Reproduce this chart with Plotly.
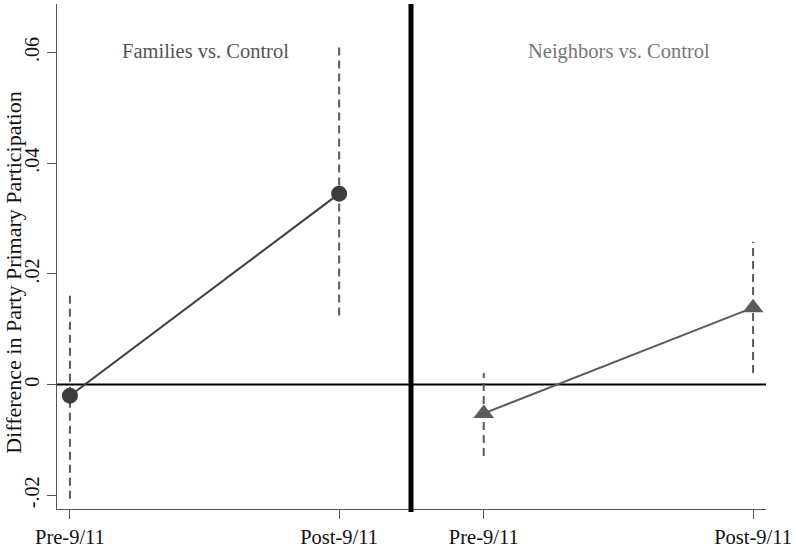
import plotly.graph_objects as go
from plotly.subplots import make_subplots

periods = ["Pre-9/11", "Post-9/11"]
families_est = [-0.0020, 0.0345]
families_lo = [-0.0206, 0.0125]
families_hi = [0.0163, 0.0616]
neighbors_est = [-0.0052, 0.0139]
neighbors_lo = [-0.0129, 0.0021]
neighbors_hi = [0.0021, 0.0258]
y_ticks = [-0.02, 0, 0.02, 0.04, 0.06]
y_ticktext = ["-.02", "0", ".02", ".04", ".06"]
panel_titles = ["Families vs. Control", "Neighbors vs. Control"]
y_title = "Difference in Party Primary Participation"

SERIF = "Liberation Serif, Times New Roman, serif"

fig = make_subplots(rows=1, cols=2, shared_yaxes=True, horizontal_spacing=0)

groups = [
    (families_est, families_lo, families_hi, "#3c3c3c", "circle", 16, 1),
    (neighbors_est, neighbors_lo, neighbors_hi, "#5c5c5c", "triangle-up", 18, 2),
]
for est, lo, hi, color, sym, msize, col in groups:
    for p, l, h in zip(periods, lo, hi):
        fig.add_trace(go.Scatter(x=[p, p], y=[l, h], mode="lines",
                                 line=dict(color="#5a5a5a", width=2, dash="8px,5px"),
                                 showlegend=False, hoverinfo="skip"), row=1, col=col)
    fig.add_trace(go.Scatter(x=periods, y=est, mode="lines+markers",
                             line=dict(color=color, width=2),
                             marker=dict(symbol=sym, size=msize, color=color),
                             showlegend=False), row=1, col=col)

axis_common = dict(showline=True, linecolor="#555555", linewidth=1.3,
                   ticks="outside", ticklen=9, tickcolor="#555555", tickwidth=1.3,
                   showgrid=False, zeroline=False,
                   tickfont=dict(family=SERIF, size=20.5, color="#111111"),
                   type="category", categoryorder="array", categoryarray=periods)

fig.update_xaxes(axis_common)
fig.update_layout(
    xaxis=dict(domain=[0, 0.4993], range=[-0.048, 1.267]),
    xaxis2=dict(domain=[0.4993, 1], range=[-0.270, 1.048]),
    yaxis=dict(range=[-0.02247, 0.06876], tickvals=y_ticks, ticktext=y_ticktext,
               tickangle=-90, showline=True, linecolor="#555555", linewidth=1.3,
               ticks="outside", ticklen=9, tickcolor="#555555", tickwidth=1.3,
               showgrid=False, zeroline=False,
               tickfont=dict(family=SERIF, size=20, color="#111111")),
    yaxis2=dict(range=[-0.02247, 0.06876], showline=False, ticks="", showticklabels=False,
                showgrid=False, zeroline=False),
    width=796, height=552,
    margin=dict(l=57, r=28, t=4, b=38),
    plot_bgcolor="white", paper_bgcolor="white",
    showlegend=False,
)

# zero reference line across both panels
fig.add_shape(type="line", xref="paper", yref="y", x0=0, x1=1, y0=0, y1=0,
              line=dict(color="black", width=2), layer="below")
# thick divider
fig.add_shape(type="line", xref="paper", yref="paper", x0=0.4993, x1=0.4993, y0=-0.006, y1=1,
              line=dict(color="black", width=5))

fig.add_annotation(text=panel_titles[0], xref="paper", yref="paper", x=0.2096, y=0.906,
                   xanchor="center", yanchor="middle",
                   showarrow=False, font=dict(family=SERIF, size=20.5, color="#555555"))
fig.add_annotation(text=panel_titles[1], xref="paper", yref="paper", x=0.792, y=0.906,
                   xanchor="center", yanchor="middle",
                   showarrow=False, font=dict(family=SERIF, size=20.5, color="#777777"))
fig.add_annotation(text=y_title, xref="paper", yref="paper", x=-0.0605, y=0.468,
                   xanchor="center", yanchor="middle", textangle=-90,
                   showarrow=False, font=dict(family=SERIF, size=22, color="#111111"))

fig.write_html("out.html", config={"displayModeBar": False},
               post_script="document.body.style.margin='0';")
